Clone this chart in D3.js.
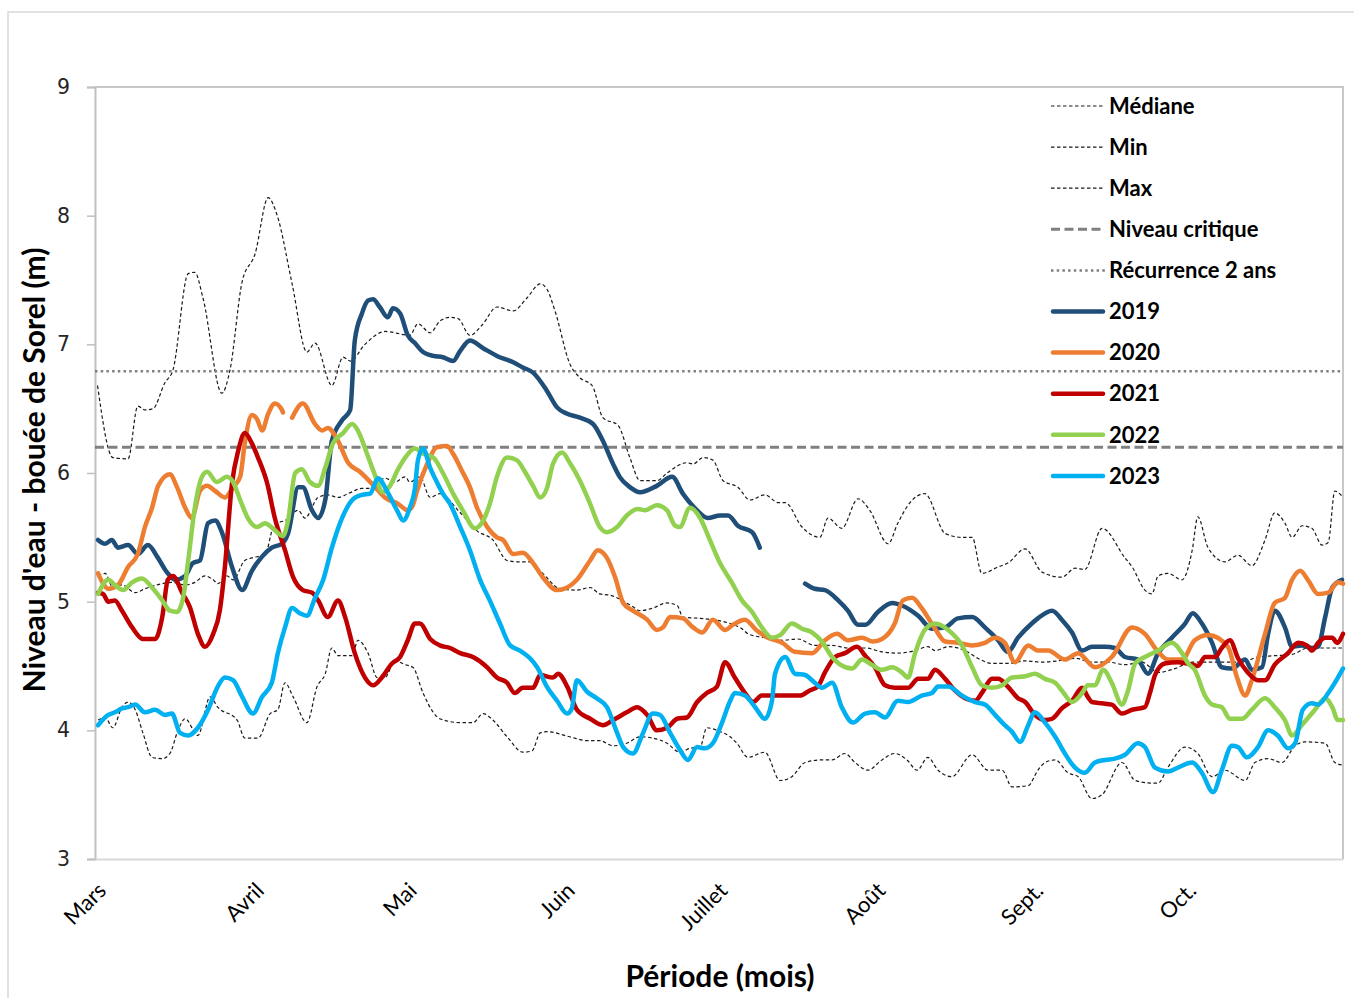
<!DOCTYPE html>
<html>
<head>
<meta charset="utf-8">
<script src="https://cdn.jsdelivr.net/npm/d3@7"></script>
<style>
  body { margin: 0; background: #fff; }
  #chart svg { display: block; }
</style>
</head>
<body>
<div id="chart"></div>
<script>
// day = days since March 1st, value = water level (m)
var monthLabels = ["Mars", "Avril", "Mai", "Juin", "Juillet", "Août", "Sept.", "Oct."];
var monthStarts = [0, 31, 61, 92, 122, 153, 184, 214];
var yTicks = [3, 4, 5, 6, 7, 8, 9];

var niveauCritique = 6.2;
var recurrence2ans = 6.79;

var mediane = [[0.6,5.20],[2.0,5.22],[3.5,5.11],[5.3,5.13],[7.9,5.07],[9.8,5.10],[12.2,5.13],[15.1,5.15],[17.7,5.13],[19.6,5.15],[21.6,5.20],[23.2,5.17],[24.1,5.14],[25.9,5.20],[27.1,5.17],[29.4,5.32],[30.8,5.34],[33.4,5.37],[35.3,5.61],[37.3,5.63],[39.9,5.71],[41.2,5.65],[43.8,5.81],[45.7,5.83],[47.7,5.81],[49.7,5.84],[52.4,5.88],[54.4,5.88],[56.9,5.96],[58.9,5.93],[60.9,5.97],[61.8,5.93],[63.8,5.97],[65.8,5.81],[67.7,5.84],[71.5,5.70],[75.0,5.55],[78.1,5.48],[80.9,5.32],[82.8,5.31],[85.4,5.31],[87.9,5.22],[91.3,5.10],[94.6,5.09],[97.2,5.11],[99.1,5.06],[101.1,5.05],[103.5,5.01],[105.6,4.96],[107.0,4.93],[109.5,4.95],[112.3,4.99],[114.3,4.97],[115.4,4.88],[118.8,4.87],[121.3,4.86],[124.7,4.83],[127.0,4.79],[128.2,4.75],[131.5,4.72],[134.9,4.70],[138.0,4.71],[141.3,4.66],[144.7,4.66],[147.8,4.64],[151.2,4.64],[154.5,4.61],[157.6,4.60],[161.0,4.62],[163.5,4.65],[164.9,4.62],[167.5,4.65],[170.8,4.62],[173.3,4.56],[176.1,4.52],[179.2,4.52],[182.6,4.54],[185.9,4.53],[189.0,4.54],[192.4,4.56],[195.7,4.53],[198.9,4.53],[202.2,4.51],[205.5,4.53],[208.7,4.45],[212.0,4.48],[215.4,4.53],[218.5,4.53],[221.8,4.53],[225.2,4.53],[228.3,4.57],[231.6,4.58],[235.0,4.59],[238.1,4.64],[241.5,4.64],[244.8,4.64]];

var minimum = [[0.6,4.08],[2.0,4.10],[3.5,4.02],[5.3,4.18],[6.5,4.22],[7.9,4.16],[9.4,3.98],[11.2,3.79],[13.2,3.78],[14.7,3.82],[16.3,4.00],[17.7,4.09],[20.2,3.96],[22.6,4.26],[24.1,4.18],[27.9,4.08],[29.4,3.94],[32.0,3.94],[34.4,4.13],[35.9,4.16],[37.3,4.37],[38.9,4.26],[41.6,4.06],[43.6,4.34],[45.2,4.44],[46.5,4.64],[47.7,4.58],[50.5,4.58],[51.6,4.70],[53.6,4.60],[55.4,4.41],[56.9,4.41],[58.9,4.54],[60.9,4.51],[62.4,4.49],[64.4,4.29],[66.4,4.14],[67.7,4.09],[71.7,4.06],[74.2,4.06],[76.2,4.13],[78.1,4.08],[80.9,3.95],[84.0,3.83],[85.8,3.84],[87.4,3.98],[88.7,3.99],[93.2,3.95],[96.6,3.92],[99.1,3.92],[101.7,3.88],[104.4,3.90],[107.0,3.95],[109.5,3.94],[112.3,3.90],[114.8,3.83],[116.8,3.86],[118.8,3.87],[120.1,4.02],[122.7,3.99],[124.7,3.95],[126.0,3.90],[128.2,3.79],[131.5,3.83],[134.5,3.61],[136.8,3.64],[139.4,3.75],[142.7,3.77],[144.7,3.77],[147.2,3.82],[149.2,3.75],[151.7,3.69],[154.5,3.77],[157.0,3.82],[159.4,3.77],[161.4,3.69],[163.5,3.79],[165.5,3.69],[168.2,3.64],[172.2,3.81],[175.3,3.69],[178.1,3.69],[180.0,3.56],[183.2,3.57],[185.1,3.69],[186.5,3.75],[188.5,3.77],[191.0,3.67],[193.0,3.64],[195.7,3.47],[197.7,3.50],[201.6,3.75],[204.2,3.61],[207.5,3.59],[208.7,3.59],[210.6,3.71],[214.0,3.87],[216.5,3.82],[219.3,3.64],[221.8,3.69],[225.8,3.61],[227.7,3.75],[230.3,3.78],[233.0,3.75],[235.6,3.88],[237.5,3.91],[241.5,3.90],[243.4,3.75],[245.0,3.73]];

var maximum = [[0.5,6.68],[3.5,6.12],[6.5,6.11],[8.4,6.52],[9.8,6.49],[11.4,6.50],[13.7,6.70],[15.3,6.80],[18.3,7.55],[19.6,7.56],[21.2,7.36],[24.9,6.62],[26.5,6.80],[28.9,7.49],[31.4,7.70],[34.0,8.14],[35.7,8.01],[38.7,7.47],[41.6,6.94],[43.2,7.01],[46.5,6.68],[48.7,6.90],[50.1,6.87],[53.0,7.00],[57.0,7.10],[61.8,7.07],[63.4,7.16],[65.8,7.09],[67.7,7.18],[69.7,7.21],[71.3,7.20],[73.6,7.07],[76.0,7.15],[78.9,7.29],[82.1,7.26],[84.8,7.36],[87.4,7.47],[88.7,7.43],[90.3,7.26],[93.2,6.85],[95.2,6.74],[97.6,6.68],[99.7,6.43],[102.7,6.37],[105.0,6.12],[107.0,5.94],[110.3,5.94],[112.3,6.00],[116.2,6.08],[117.4,6.07],[119.4,6.12],[121.3,6.10],[123.3,5.94],[126.2,5.89],[128.6,5.79],[131.5,5.83],[134.1,5.77],[135.5,5.77],[138.8,5.58],[142.3,5.50],[143.9,5.65],[146.6,5.57],[149.8,5.80],[152.1,5.71],[155.7,5.45],[157.6,5.61],[160.0,5.77],[162.9,5.84],[166.9,5.53],[170.2,5.50],[172.2,5.50],[174.1,5.22],[177.3,5.27],[179.2,5.30],[182.6,5.41],[185.9,5.23],[189.8,5.19],[192.4,5.26],[194.3,5.25],[197.7,5.57],[202.2,5.34],[203.6,5.27],[206.1,5.09],[207.5,5.06],[208.7,5.20],[210.6,5.22],[213.4,5.17],[215.4,5.40],[216.5,5.66],[218.5,5.42],[221.8,5.31],[224.4,5.36],[227.1,5.28],[229.7,5.48],[231.6,5.69],[233.6,5.61],[235.0,5.50],[237.0,5.59],[238.9,5.57],[240.9,5.44],[242.1,5.46],[243.4,5.86],[244.8,5.82]];

var y2019 = [[0.6,5.48],[2.0,5.45],[3.3,5.48],[4.5,5.42],[6.5,5.44],[8.4,5.37],[10.4,5.44],[12.2,5.35],[14.1,5.23],[15.7,5.17],[17.7,5.20],[19.2,5.30],[20.6,5.32],[22.2,5.61],[23.6,5.63],[24.9,5.54],[26.9,5.27],[28.9,5.09],[30.8,5.24],[32.8,5.35],[34.7,5.42],[36.7,5.45],[37.9,5.53],[39.9,5.89],[40.8,5.89],[42.6,5.71],[43.8,5.65],[45.2,5.79],[46.5,6.25],[48.5,6.41],[50.1,6.49],[51.0,7.03],[52.4,7.24],[53.6,7.34],[54.6,7.35],[55.9,7.29],[57.5,7.21],[58.5,7.28],[59.9,7.24],[61.4,7.07],[62.8,7.01],[64.4,6.94],[66.4,6.91],[68.3,6.90],[70.3,6.87],[71.7,6.95],[73.6,7.03],[76.2,6.97],[78.9,6.91],[82.1,6.86],[84.0,6.82],[86.0,6.78],[88.7,6.64],[90.7,6.51],[92.7,6.46],[95.2,6.43],[97.8,6.38],[99.7,6.25],[101.7,6.07],[103.0,5.97],[105.0,5.89],[107.0,5.85],[110.3,5.90],[113.3,5.97],[115.4,5.84],[118.2,5.71],[120.3,5.65],[122.7,5.67],[124.3,5.67],[126.2,5.59],[129.0,5.54],[130.5,5.42],[135.0,null],[139.4,5.14],[141.3,5.10],[143.3,5.09],[145.9,5.01],[147.8,4.93],[149.8,4.82],[151.2,4.82],[153.7,4.92],[156.5,4.99],[158.4,4.97],[161.6,4.89],[164.3,4.79],[166.9,4.80],[169.4,4.87],[172.2,4.88],[174.7,4.80],[177.3,4.70],[179.2,4.61],[181.2,4.72],[183.9,4.83],[185.1,4.87],[187.9,4.93],[189.8,4.86],[191.8,4.76],[193.8,4.62],[195.7,4.65],[198.3,4.65],[200.2,4.64],[202.2,4.57],[204.7,4.55],[206.7,4.44],[208.7,4.60],[211.4,4.72],[214.0,4.83],[215.5,4.91],[217.3,4.83],[219.3,4.68],[221.2,4.49],[223.2,4.48],[225.8,4.55],[227.1,4.47],[229.1,4.49],[230.3,4.75],[231.6,4.93],[233.6,4.80],[235.0,4.65],[236.9,4.66],[238.9,4.64],[240.1,4.65],[241.5,4.88],[242.9,5.11],[244.8,5.17]];

var y2020 = [[0.6,5.22],[1.6,5.14],[2.6,5.10],[4.5,5.13],[6.5,5.27],[8.4,5.37],[9.8,5.58],[11.2,5.73],[12.4,5.90],[14.7,5.99],[16.1,5.89],[17.7,5.73],[19.0,5.65],[20.6,5.86],[22.0,5.90],[23.6,5.86],[25.5,5.81],[27.1,5.89],[28.5,5.97],[29.4,6.23],[30.8,6.45],[31.8,6.42],[32.8,6.33],[34.0,6.46],[35.3,6.54],[36.7,6.49],[36.9,6.47],[37.6,null],[38.7,6.43],[40.8,6.54],[43.2,6.38],[44.6,6.33],[45.7,6.35],[47.7,6.25],[49.7,6.08],[52.0,6.01],[55.0,5.89],[56.9,5.81],[59.5,5.76],[61.4,5.71],[62.4,5.75],[63.2,5.86],[65.2,6.07],[67.1,6.20],[69.1,6.21],[70.3,6.15],[72.0,6.02],[73.6,5.89],[75.0,5.73],[77.0,5.58],[78.9,5.50],[80.1,5.48],[82.1,5.37],[84.0,5.38],[86.0,5.30],[87.9,5.19],[90.7,5.09],[92.7,5.11],[94.6,5.17],[97.2,5.32],[98.7,5.40],[100.5,5.34],[102.1,5.19],[103.7,4.99],[105.6,4.93],[108.4,4.86],[110.3,4.78],[111.5,4.80],[112.9,4.88],[115.4,4.87],[117.4,4.80],[119.2,4.76],[121.3,4.86],[123.7,4.78],[125.2,4.82],[127.6,4.86],[129.8,4.78],[132.1,4.72],[134.9,4.68],[137.4,4.61],[140.8,4.60],[143.3,4.70],[145.7,4.75],[147.8,4.70],[150.6,4.72],[152.7,4.69],[154.5,4.71],[157.0,4.83],[158.6,5.01],[160.4,5.03],[162.3,4.95],[164.9,4.79],[166.9,4.69],[169.4,4.68],[172.2,4.66],[174.7,4.68],[176.7,4.72],[178.6,4.68],[180.6,4.53],[183.2,4.66],[185.1,4.62],[187.1,4.62],[190.4,4.55],[193.0,4.60],[196.3,4.49],[199.6,4.57],[203.6,4.80],[206.1,4.75],[208.7,4.61],[210.6,4.55],[213.4,4.55],[215.9,4.70],[218.5,4.74],[222.4,4.65],[224.2,4.41],[225.8,4.27],[227.1,4.39],[229.7,4.75],[231.6,4.99],[233.6,5.03],[235.0,5.17],[236.6,5.24],[238.1,5.17],[240.1,5.06],[242.1,5.07],[244.0,5.15],[245.0,5.14]];

var y2021 = [[0.6,5.07],[1.6,5.06],[2.6,5.00],[3.9,5.01],[5.3,4.93],[7.3,4.80],[9.4,4.71],[11.8,4.71],[13.2,4.88],[14.3,5.17],[15.3,5.20],[17.1,5.07],[18.6,4.96],[20.2,4.75],[21.6,4.65],[23.2,4.75],[24.5,4.93],[25.5,5.27],[26.9,5.92],[28.1,6.17],[29.4,6.31],[30.8,6.23],[32.0,6.12],[33.8,5.92],[35.3,5.65],[37.3,5.40],[38.9,5.19],[40.8,5.09],[42.6,5.07],[43.8,5.01],[45.7,4.88],[47.7,5.01],[49.1,4.88],[51.0,4.60],[53.0,4.41],[54.6,4.35],[56.3,4.41],[58.3,4.52],[59.9,4.57],[61.4,4.70],[62.8,4.83],[63.8,4.83],[65.8,4.71],[67.7,4.66],[69.7,4.64],[71.7,4.60],[74.2,4.57],[77.0,4.49],[78.9,4.41],[80.9,4.37],[82.4,4.29],[84.0,4.33],[86.0,4.33],[87.4,4.43],[89.9,4.41],[90.9,4.44],[92.7,4.34],[94.6,4.16],[97.2,4.09],[99.7,4.04],[101.7,4.08],[104.4,4.14],[106.4,4.18],[108.4,4.12],[110.3,4.00],[112.3,4.02],[114.3,4.09],[116.2,4.10],[118.2,4.22],[120.1,4.29],[122.1,4.34],[123.7,4.53],[125.6,4.41],[127.6,4.29],[129.2,4.22],[130.9,4.27],[133.5,4.27],[136.0,4.27],[138.4,4.27],[140.3,4.31],[141.9,4.34],[143.3,4.45],[145.3,4.57],[147.2,4.60],[149.6,4.65],[151.2,4.58],[153.1,4.49],[155.1,4.35],[157.0,4.33],[159.6,4.33],[161.6,4.40],[163.5,4.40],[164.9,4.47],[166.9,4.40],[168.8,4.31],[170.8,4.25],[172.8,4.23],[174.1,4.29],[176.1,4.40],[177.3,4.40],[179.2,4.34],[181.2,4.25],[182.6,4.22],[184.5,4.12],[186.5,4.08],[187.9,4.09],[189.8,4.17],[191.8,4.23],[193.8,4.33],[194.9,4.26],[195.7,4.22],[197.7,4.21],[199.6,4.20],[201.6,4.13],[203.6,4.16],[206.1,4.18],[207.1,4.29],[208.1,4.43],[210.0,4.52],[212.6,4.53],[215.4,4.51],[216.5,4.50],[217.9,4.57],[219.9,4.57],[221.2,4.64],[222.8,4.70],[224.4,4.56],[226.3,4.45],[228.3,4.39],[229.7,4.39],[231.6,4.51],[234.2,4.60],[236.2,4.68],[237.9,4.66],[238.9,4.62],[240.1,4.68],[241.5,4.72],[242.9,4.72],[243.8,4.68],[245.0,4.75]];

var y2022 = [[0.6,5.06],[2.6,5.17],[3.9,5.13],[5.5,5.09],[7.3,5.15],[9.2,5.18],[11.2,5.11],[13.2,5.01],[14.7,4.93],[16.1,4.92],[17.3,5.03],[18.3,5.32],[19.6,5.73],[21.0,5.97],[22.0,6.01],[23.9,5.93],[25.9,5.97],[27.1,5.93],[28.5,5.79],[30.0,5.65],[31.8,5.58],[33.4,5.61],[34.9,5.57],[36.9,5.51],[37.9,5.63],[39.3,6.00],[40.6,6.03],[42.2,5.93],[43.8,5.90],[45.2,6.04],[46.7,6.23],[48.7,6.31],[50.5,6.38],[51.6,6.33],[53.4,6.15],[55.0,5.98],[56.5,5.85],[57.9,5.90],[59.5,6.03],[60.9,6.12],[62.8,6.19],[64.4,6.15],[66.4,6.12],[68.3,6.00],[70.3,5.84],[72.2,5.71],[74.6,5.57],[76.2,5.63],[77.5,5.76],[78.9,5.97],[80.9,6.12],[82.8,6.10],[84.4,6.01],[86.0,5.90],[87.4,5.81],[88.7,5.88],[89.9,6.07],[91.7,6.16],[93.2,6.08],[95.2,5.94],[97.2,5.76],[99.1,5.58],[100.5,5.54],[102.5,5.58],[104.4,5.67],[106.6,5.72],[108.0,5.71],[110.3,5.75],[112.3,5.71],[113.9,5.59],[114.8,5.58],[116.8,5.73],[118.8,5.65],[120.7,5.48],[122.7,5.30],[125.0,5.15],[127.0,5.01],[129.0,4.92],[130.9,4.80],[132.9,4.72],[134.5,4.74],[136.8,4.83],[138.8,4.79],[140.8,4.76],[142.7,4.69],[144.7,4.57],[146.3,4.51],[148.6,4.48],[150.6,4.55],[152.5,4.51],[154.5,4.47],[156.5,4.49],[158.4,4.45],[159.6,4.41],[161.0,4.60],[162.9,4.78],[164.9,4.83],[167.5,4.78],[170.2,4.66],[172.2,4.49],[174.1,4.35],[176.1,4.33],[178.1,4.35],[180.0,4.41],[182.6,4.42],[184.5,4.44],[186.5,4.40],[188.5,4.37],[189.8,4.31],[191.8,4.22],[193.8,4.29],[194.9,4.35],[196.3,4.35],[197.9,4.47],[199.6,4.37],[201.6,4.20],[202.8,4.31],[204.2,4.52],[206.1,4.57],[208.7,4.62],[211.4,4.68],[213.4,4.60],[214.6,4.52],[215.9,4.47],[217.9,4.27],[219.3,4.20],[221.2,4.18],[222.8,4.09],[225.2,4.09],[227.1,4.16],[229.7,4.25],[231.6,4.18],[233.6,4.08],[235.0,3.96],[236.9,4.04],[239.5,4.16],[241.5,4.25],[242.9,4.18],[244.0,4.08],[245.0,4.08]];

var y2023 = [[0.6,4.04],[2.6,4.12],[3.9,4.14],[5.3,4.17],[6.5,4.18],[7.9,4.20],[9.8,4.14],[11.8,4.16],[13.7,4.12],[15.1,4.13],[16.7,3.98],[18.3,3.96],[20.2,4.02],[22.2,4.16],[24.1,4.34],[25.5,4.41],[27.1,4.39],[28.9,4.26],[31.0,4.13],[32.8,4.26],[34.7,4.37],[35.9,4.60],[37.3,4.80],[38.7,4.95],[40.2,4.91],[41.6,4.89],[43.2,5.03],[44.8,5.17],[46.5,5.42],[48.5,5.65],[50.5,5.79],[52.4,5.83],[54.0,5.84],[55.6,5.96],[57.3,5.86],[59.3,5.71],[60.5,5.63],[61.8,5.73],[62.8,5.88],[63.4,6.10],[64.4,6.19],[65.8,6.04],[67.1,5.93],[68.3,5.84],[69.7,5.76],[71.7,5.58],[73.6,5.40],[75.6,5.17],[77.5,5.01],[79.5,4.83],[81.5,4.66],[83.4,4.62],[85.4,4.56],[86.8,4.49],[88.7,4.34],[90.7,4.23],[92.7,4.13],[93.6,4.17],[94.6,4.39],[96.6,4.30],[98.5,4.25],[100.5,4.18],[102.5,3.98],[103.7,3.87],[105.6,3.82],[107.6,3.98],[109.5,4.13],[110.9,4.12],[112.9,3.98],[114.8,3.85],[116.4,3.77],[118.2,3.87],[119.7,3.86],[121.3,3.90],[123.1,4.06],[124.7,4.23],[125.6,4.29],[127.6,4.27],[129.6,4.18],[131.5,4.09],[132.9,4.23],[133.5,4.44],[135.5,4.57],[137.4,4.44],[139.4,4.43],[141.3,4.37],[142.7,4.33],[144.7,4.37],[146.6,4.18],[148.8,4.06],[151.2,4.13],[153.1,4.14],[155.1,4.10],[157.6,4.23],[159.6,4.22],[162.3,4.27],[164.3,4.29],[165.5,4.34],[167.5,4.34],[170.2,4.27],[172.8,4.22],[174.7,4.20],[176.7,4.12],[178.6,4.04],[180.0,3.99],[181.6,3.91],[183.2,4.04],[184.5,4.14],[186.5,4.06],[188.5,3.95],[190.4,3.82],[192.4,3.71],[194.3,3.67],[196.3,3.75],[198.3,3.77],[200.2,3.78],[202.2,3.81],[204.7,3.90],[206.1,3.87],[208.1,3.71],[210.6,3.68],[212.6,3.71],[215.4,3.75],[217.3,3.67],[219.5,3.52],[221.2,3.69],[223.2,3.88],[224.4,3.87],[226.1,3.79],[228.3,3.87],[230.3,4.00],[232.2,3.96],[234.2,3.86],[235.6,3.90],[237.1,4.16],[238.9,4.21],[240.1,4.20],[242.1,4.29],[243.4,4.37],[245.0,4.48]];

var seriesNames = ["Médiane", "Min", "Max", "Niveau critique", "Récurrence 2 ans", "2019", "2020", "2021", "2022", "2023"];

// Step 1: set up the chart
var svgWidth = 1354;
var svgHeight = 998;
var margin = { top: 87, right: 11, bottom: 139, left: 95 };
var width = svgWidth - margin.left - margin.right;
var height = svgHeight - margin.top - margin.bottom;

var svg = d3.select("#chart")
  .append("svg")
  .attr("width", svgWidth)
  .attr("height", svgHeight);

// outer chart frame (only top and left visible)
svg.append("rect")
  .attr("x", 8)
  .attr("y", 12)
  .attr("width", 1400)
  .attr("height", 1100)
  .attr("fill", "none")
  .attr("stroke", "#d9d9d9")
  .attr("stroke-width", 1.5);

var chartGroup = svg.append("g")
  .attr("transform", `translate(${margin.left}, ${margin.top})`);

// Step 2: scales
var xScale = d3.scaleLinear().domain([0, 245]).range([0, width]);
var yScale = d3.scaleLinear().domain([3, 9]).range([height, 0]);

// plot area border (top and right)
chartGroup.append("path")
  .attr("d", `M0,0H${width}V${height}`)
  .attr("fill", "none")
  .attr("stroke", "#c8c8c8")
  .attr("stroke-width", 2);

// Step 3: axes
var leftAxis = d3.axisLeft(yScale)
  .tickValues(yTicks)
  .tickSize(8)
  .tickPadding(17)
  .tickFormat(d3.format("d"));

var yAxisG = chartGroup.append("g").call(leftAxis);
yAxisG.select(".domain").attr("stroke", "#bfbfbf").attr("stroke-width", 2);
yAxisG.selectAll(".tick line").attr("stroke", "#bfbfbf").attr("stroke-width", 1.5);
yAxisG.selectAll(".tick text")
  .attr("font-family", "DejaVu Sans, Verdana, sans-serif")
  .attr("font-size", "20.5px")
  .attr("fill", "#262626");

var bottomAxis = d3.axisBottom(xScale)
  .tickValues(monthStarts)
  .tickSize(0)
  .tickFormat(function (d, i) { return monthLabels[i]; });

var xAxisG = chartGroup.append("g")
  .attr("transform", `translate(0, ${height})`)
  .call(bottomAxis);
xAxisG.select(".domain").attr("stroke", "#d9d9d9").attr("stroke-width", 2);
xAxisG.selectAll(".tick text")
  .attr("font-family", "Lato, Calibri, sans-serif")
  .attr("font-size", "22px")
  .attr("fill", "#000")
  .attr("text-anchor", "end")
  .attr("dy", null)
  .attr("y", null)
  .attr("transform", "translate(12, 33) rotate(-45)");

// Step 4: reference lines
function hLine(value, dash, width) {
  chartGroup.append("line")
    .attr("x1", 0)
    .attr("x2", xScale(245))
    .attr("y1", yScale(value))
    .attr("y2", yScale(value))
    .attr("stroke", "#808080")
    .attr("stroke-width", width)
    .attr("stroke-dasharray", dash);
}

// Step 5: series lines
var lineGen = d3.line()
  .defined(d => d[1] !== null)
  .x(d => xScale(d[0]))
  .y(d => yScale(d[1]))
  .curve(d3.curveMonotoneX);

function drawSeries(data, color, width, dash) {
  chartGroup.append("path")
    .datum(data)
    .attr("d", lineGen)
    .attr("fill", "none")
    .attr("stroke", color)
    .attr("stroke-width", width)
    .attr("stroke-linejoin", "round")
    .attr("stroke-linecap", dash ? "butt" : "round")
    .attr("stroke-dasharray", dash);
}

drawSeries(mediane, "#1a1a1a", 1.2, "3.5,2.5");
drawSeries(minimum, "#1a1a1a", 1.2, "3.5,2.5");
drawSeries(maximum, "#1a1a1a", 1.2, "3.5,2.5");
hLine(niveauCritique, "9,4.5", 3);
hLine(recurrence2ans, "2.5,3.2", 2.5);
drawSeries(y2019, "#1f4e79", 4.5, null);
drawSeries(y2020, "#ed7d31", 4.5, null);
drawSeries(y2021, "#c00000", 4.5, null);
drawSeries(y2022, "#92d050", 4.5, null);
drawSeries(y2023, "#00b0f0", 4.5, null);

// Step 6: legend
var legendStyles = [
  { color: "#1a1a1a", width: 1.2, dash: "3.5,2.5" },
  { color: "#1a1a1a", width: 1.2, dash: "3.5,2.5" },
  { color: "#1a1a1a", width: 1.2, dash: "3.5,2.5" },
  { color: "#808080", width: 3, dash: "9,4.5" },
  { color: "#808080", width: 2.5, dash: "2.5,3.2" },
  { color: "#1f4e79", width: 4.5, dash: null },
  { color: "#ed7d31", width: 4.5, dash: null },
  { color: "#c00000", width: 4.5, dash: null },
  { color: "#92d050", width: 4.5, dash: null },
  { color: "#00b0f0", width: 4.5, dash: null }
];

var legend = svg.append("g").attr("transform", "translate(1051, 106)");
seriesNames.forEach(function (name, i) {
  var row = legend.append("g").attr("transform", `translate(0, ${i * 41.1})`);
  row.append("line")
    .attr("x1", legendStyles[i].dash ? 0 : 2)
    .attr("x2", legendStyles[i].dash ? 54 : 52)
    .attr("stroke", legendStyles[i].color)
    .attr("stroke-width", legendStyles[i].width)
    .attr("stroke-linecap", legendStyles[i].dash ? "butt" : "round")
    .attr("stroke-dasharray", legendStyles[i].dash);
  row.append("text")
    .attr("x", 58)
    .attr("dy", "0.35em")
    .attr("font-family", "Lato, Calibri, sans-serif")
    .attr("font-weight", "bold")
    .attr("font-size", "22px")
    .attr("fill", "#000")
    .text(name);
});

// Step 7: axis titles
svg.append("text")
  .attr("x", margin.left + width / 2 + 1)
  .attr("y", 987)
  .attr("text-anchor", "middle")
  .attr("font-family", "Lato, Calibri, sans-serif")
  .attr("font-weight", "bold")
  .attr("font-size", "30px")
  .text("Période (mois)");

svg.append("text")
  .attr("transform", "translate(45, 470) rotate(-90)")
  .attr("text-anchor", "middle")
  .attr("font-family", "Lato, Calibri, sans-serif")
  .attr("font-weight", "bold")
  .attr("font-size", "30px")
  .text("Niveau d'eau - bouée de Sorel (m)");
</script>
</body>
</html>
